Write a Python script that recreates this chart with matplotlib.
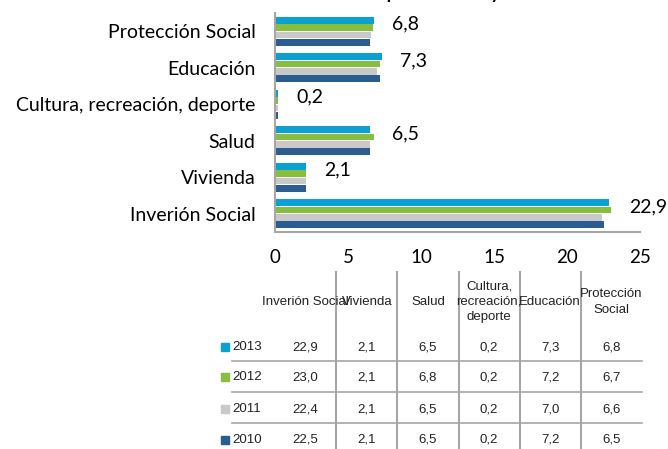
import matplotlib
matplotlib.use("Agg")
import matplotlib.pyplot as plt
from matplotlib.patches import Rectangle
from matplotlib.lines import Line2D

# ---------------- data ----------------
categories = ["Inverión Social", "Vivienda", "Salud", "Cultura, recreación, deporte",
              "Educación", "Protección Social"]
table_headers = ["Inverión Social", "Vivienda", "Salud", "Cultura,\nrecreación,\ndeporte",
                 "Educación", "Protección\nSocial"]
years = ["2013", "2012", "2011", "2010"]
v2013 = [22.9, 2.1, 6.5, 0.2, 7.3, 6.8]
v2012 = [23.0, 2.1, 6.8, 0.2, 7.2, 6.7]
v2011 = [22.4, 2.1, 6.5, 0.2, 7.0, 6.6]
v2010 = [22.5, 2.1, 6.5, 0.2, 7.2, 6.5]
series = [v2013, v2012, v2011, v2010]
colors = ["#0AA0D2", "#86BE3E", "#C9C9C9", "#2A5D90"]
xticks = [0, 5, 10, 15, 20, 25]

W, H = 668, 449
fig = plt.figure(figsize=(W / 100, H / 100), dpi=100)
label_font = ["Lato", "DejaVu Sans"]
table_font = ["Liberation Sans Narrow", "Liberation Sans", "DejaVu Sans"]

def fx(x):
    return x / W

def fy(y):
    return 1 - y / H

# ---------------- chart ----------------
ax = fig.add_axes([fx(275), fy(232), fx(365), 219 / H])
n = len(categories)
bh = 0.2
offsets = [1.5 * bh, 0.5 * bh, -0.5 * bh, -1.5 * bh]
for vals, col, off in zip(series, colors, offsets):
    ax.barh([i + off for i in range(n)], vals, height=bh * 0.92, color=col,
            edgecolor="none")
for i, v in enumerate(v2013):
    lab = f"{v:.1f}".replace(".", ",")
    ax.annotate(lab, xy=(max(v2013[i], v2012[i]), i + bh), xytext=(13, 0),
                textcoords="offset points", ha="left", va="center",
                fontsize=14, family=label_font)
ax.set_xlim(0, 25)
ax.set_ylim(-0.5, n - 0.5)
ax.set_yticks(range(n))
ax.set_yticklabels(categories, family=label_font, fontsize=14)
ax.set_xticks(xticks)
ax.set_xticklabels([str(t) for t in xticks], family=label_font, fontsize=13.5)
ax.tick_params(axis="y", length=0, pad=14)
ax.tick_params(axis="x", length=0, pad=12)
for s in ["top", "right"]:
    ax.spines[s].set_visible(False)
for s in ["left", "bottom"]:
    ax.spines[s].set_color("#A6A6A6")
    ax.spines[s].set_linewidth(1.5)

# title (mostly cut off at the top)
fig.text(fx(258), fy(-1.5), "Inversión social por sectores y años", ha="left",
         va="baseline", fontsize=13, fontweight="bold", family=label_font)

# ---------------- data table ----------------
col_left = 275
col_w = 367 / 6
line_col = "#A6A6A6"
for k in range(1, 6):
    x = col_left + k * col_w
    fig.add_artist(Line2D([fx(x), fx(x)], [fy(272), fy(449)], color=line_col,
                          lw=1.5, transform=fig.transFigure))
for y in [361, 392, 423]:
    fig.add_artist(Line2D([fx(232), fx(642)], [fy(y), fy(y)], color=line_col,
                          lw=1.2, transform=fig.transFigure))

for k, h in enumerate(table_headers):
    cx = col_left + (k + 0.5) * col_w
    fig.text(fx(cx), fy(302), h, ha="center", va="center", fontsize=9.5,
             family=table_font, linespacing=1.35, color="#222222")

row_y = [347, 377, 409, 440]
for r, (yr, vals, col) in enumerate(zip(years, series, colors)):
    yc = row_y[r]
    fig.add_artist(Rectangle((fx(221), fy(yc + 4)), fx(8), 8 / H, color=col,
                             transform=fig.transFigure))
    fig.text(fx(232), fy(yc), yr, ha="left", va="center", fontsize=9.5,
             family=table_font, color="#222222")
    for k, v in enumerate(vals):
        cx = col_left + (k + 0.5) * col_w
        fig.text(fx(cx), fy(yc), f"{v:.1f}".replace(".", ","), ha="center",
                 va="center", fontsize=9.5, family=table_font, color="#222222")

fig.savefig("out.png", dpi=100)
